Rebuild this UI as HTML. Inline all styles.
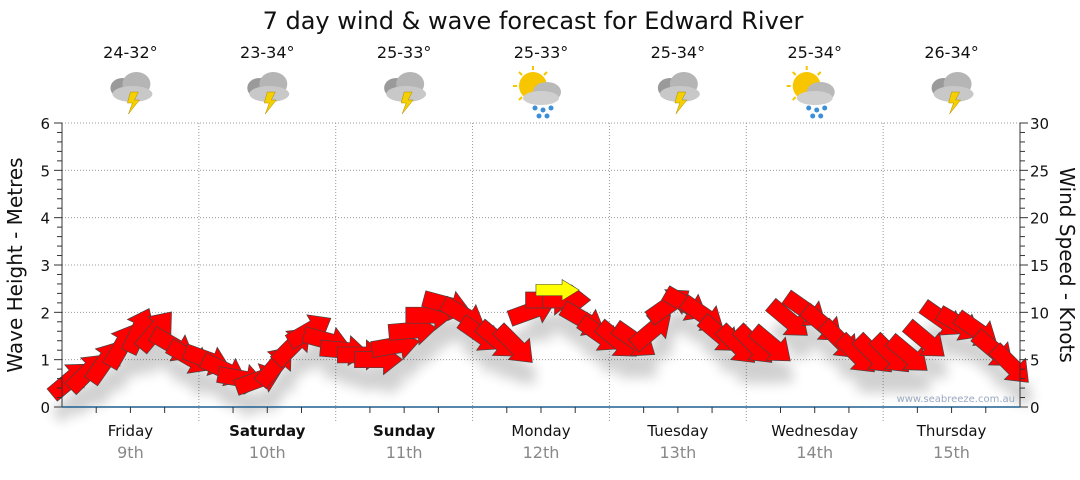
<!DOCTYPE html>
<html><head><meta charset="utf-8"><style>
body{margin:0;background:#fff;}
svg text{font-family:"DejaVu Sans","Liberation Sans",sans-serif;}
</style></head><body>
<svg width="1080" height="475" viewBox="0 0 1080 475" xmlns="http://www.w3.org/2000/svg">
<defs>
<filter id="sh" x="-50%" y="-50%" width="200%" height="200%"><feGaussianBlur stdDeviation="6"/></filter>
<g id="storm">
<ellipse cx="-8" cy="-2" rx="12" ry="10" fill="#9a9a9a"/>
<ellipse cx="6" cy="-6" rx="14" ry="12" fill="#b5b5b5"/>
<ellipse cx="2" cy="4" rx="20" ry="8" fill="#c8c8c8"/>
<polygon points="0,2 8,2 4,10 9,10 -2,24 2,13 -3,13" fill="#f5d000" stroke="#b08a00" stroke-width="0.5"/>
</g>
<g id="sunrain">
<circle cx="-8" cy="-6" r="14" fill="#f7c600"/>
<g stroke="#f7c600" stroke-width="2"><line x1="-8" y1="-26" x2="-8" y2="-22"/><line x1="-28" y1="-6" x2="-24" y2="-6"/><line x1="-22" y1="-20" x2="-19" y2="-17"/><line x1="6" y1="-20" x2="3" y2="-17"/><line x1="-22" y1="8" x2="-19" y2="5"/></g>
<ellipse cx="6" cy="0" rx="14" ry="10" fill="#b9b9b9"/>
<ellipse cx="0" cy="6" rx="18" ry="7" fill="#cfcfcf"/>
<g fill="#3a8fd8"><circle cx="-6" cy="16" r="2.5"/><circle cx="2" cy="18" r="2.5"/><circle cx="10" cy="16" r="2.5"/><circle cx="-2" cy="24" r="2.5"/><circle cx="6" cy="24" r="2.5"/></g>
</g>
</defs>
<text x="533" y="29" font-size="24" text-anchor="middle" fill="#111">7 day wind &amp; wave forecast for Edward River</text>
<g id="grid"></g>
<g id="shadows" filter="url(#sh)" opacity="0.18"></g>
<g id="arrows"></g>
<g id="axes"></g>
<text x="1015" y="402" font-size="10" text-anchor="end" fill="#9aa8c0">www.seabreeze.com.au</text>
<text transform="translate(22,265) rotate(-90)" font-size="20" text-anchor="middle" fill="#111">Wave Height - Metres</text>
<text transform="translate(1060,265) rotate(90)" font-size="20" text-anchor="middle" fill="#111">Wind Speed - Knots</text>
</svg>
<script>
const days=["Friday","Saturday","Sunday","Monday","Tuesday","Wednesday","Thursday"];
const dates=["9th","10th","11th","12th","13th","14th","15th"];
const boldDays=[false,true,true,false,false,false,false];
const temps=["24-32°","23-34°","25-33°","25-33°","25-34°","25-34°","26-34°"];
const icons=["storm","storm","storm","sunrain","storm","sunrain","storm"];
const waveTicks=[0,1,2,3,4,5,6];
const windTicks=[0,5,10,15,20,25,30];
const windSpeed=[2.9,3.7,4.8,6.5,8.1,8.1,6.5,5.2, 5,3.9,3,2.9,4.4,6.5,8.1,7, 6,5.5,5,6.5,8.1,9.7,10.8,9.7, 7.6,7,6.5,10.2,11.3,11.3,9.2,7.6, 7,7,8.1,10.8,10.8,9.7,7.6,6.5, 6.5,6.5,9.2,10.2,8.7,7,5.5,5.5, 5.5,5.5,7,9.2,8.7,8.1,6,4.4];
const windDir=[-40,-45,-55,-60,-65,-50,30,30, 20,25,10,-20,-50,-45,-30,15, 5,0,0,-10,-5,0,15,30, 35,40,45,-20,0,0,30,35, 40,35,-40,-35,30,35,40,45, 45,40,40,35,40,45,45,45, 45,40,40,35,30,35,40,45];
const highlightIdx=28;

const NS="http://www.w3.org/2000/svg";
const X0=62,X1=1020,YB=407,YT=123;
const dayW=(X1-X0)/7;
const yWave=v=>YB-(YB-YT)*v/6;
const yWind=v=>YB-(YB-YT)*v/30;
const xIdx=i=>X0+(i+0.5)*(X1-X0)/windSpeed.length;
function mk(tag,attrs,parent){const e=document.createElementNS(NS,tag);for(const k in attrs)e.setAttribute(k,attrs[k]);parent.appendChild(e);return e;}
const grid=document.getElementById('grid'),axes=document.getElementById('axes'),arrows=document.getElementById('arrows'),shadows=document.getElementById('shadows'),svg=document.querySelector('svg');

waveTicks.forEach(v=>{
  if(v>0){const l=mk('line',{x1:X0,x2:X1,y1:yWave(v),y2:yWave(v),stroke:'#999','stroke-dasharray':'1,2'},grid);
  
  }
  const t=mk('text',{x:50,y:yWave(v)+6,'font-size':15,'text-anchor':'end',fill:'#111'},axes);t.textContent=v;
  
  
});
for(let m=0;m<=30;m++){const y=YB-(YB-YT)*m/30;mk('line',{x1:m%5==0?X0-8:X0-5,x2:X0,y1:y,y2:y,stroke:'#333'},axes);mk('line',{x1:X1,x2:m%5==0?X1+8:X1+5,y1:y,y2:y,stroke:'#333'},axes);}
windTicks.forEach(v=>{
  const t=mk('text',{x:1030,y:yWind(v)+6,'font-size':15,fill:'#111'},axes);t.textContent=v;
  
  
});
mk('line',{x1:X0,x2:X0,y1:YT,y2:YB,stroke:'#333'},axes);
mk('line',{x1:X1,x2:X1,y1:YT,y2:YB,stroke:'#333'},axes);
mk('line',{x1:X0,x2:X1,y1:YB,y2:YB,stroke:'#1f5f8f','stroke-width':1.5},axes);
for(let d=0;d<7;d++){
  const xs=X0+d*dayW;
  if(d>0){const l=mk('line',{x1:xs,x2:xs,y1:YT,y2:YB+14,stroke:'#999','stroke-dasharray':'1,2'},grid);
  
  }
  for(let q=1;q<4;q++){const xq=xs+q*dayW/4;mk('line',{x1:xq,x2:xq,y1:YB,y2:YB+6,stroke:'#333'},axes);}
  const cx=xs+dayW/2;
  const t=mk('text',{x:cx,y:436,'font-size':15,'text-anchor':'middle',fill:'#111','font-weight':boldDays[d]?'bold':'normal'},axes);t.textContent=days[d];
  
  
  const t2=mk('text',{x:cx,y:458,'font-size':16,'text-anchor':'middle',fill:'#888'},axes);t2.textContent=dates[d];
  
  
  const t3=mk('text',{x:cx,y:58,'font-size':16,'text-anchor':'middle',fill:'#111'},svg);t3.textContent=temps[d];
  
  
  const ic=mk('use',{href:'#'+icons[d],transform:`translate(${cx},${icons[d]=='storm'?90:92})`},svg);
  
  
}
const AP="-24,-8 5,-8 5,-15 24,0 5,15 5,8 -24,8";
function arrow(i,color,parent,dy){
  return mk('polygon',{points:AP,fill:color,stroke:'#444','stroke-width':0.7,transform:`translate(${xIdx(i)},${yWind(windSpeed[i])+dy}) rotate(${windDir[i]})`},parent);
}
windSpeed.forEach((v,i)=>{
  mk('polygon',{points:AP,fill:'#000',transform:`translate(${xIdx(i)+4},${yWind(v)+22}) rotate(${windDir[i]})`},shadows);
});
windSpeed.forEach((v,i)=>{
  const a=arrow(i,'#ff0000',arrows,0);
  
  
});
const h=mk('polygon',{points:AP,fill:'#ffff00',stroke:'#444','stroke-width':0.7,transform:`translate(${xIdx(highlightIdx)+8},${yWind(windSpeed[highlightIdx])-10}) scale(0.9,0.7)`},arrows);


</script>
</body></html>
